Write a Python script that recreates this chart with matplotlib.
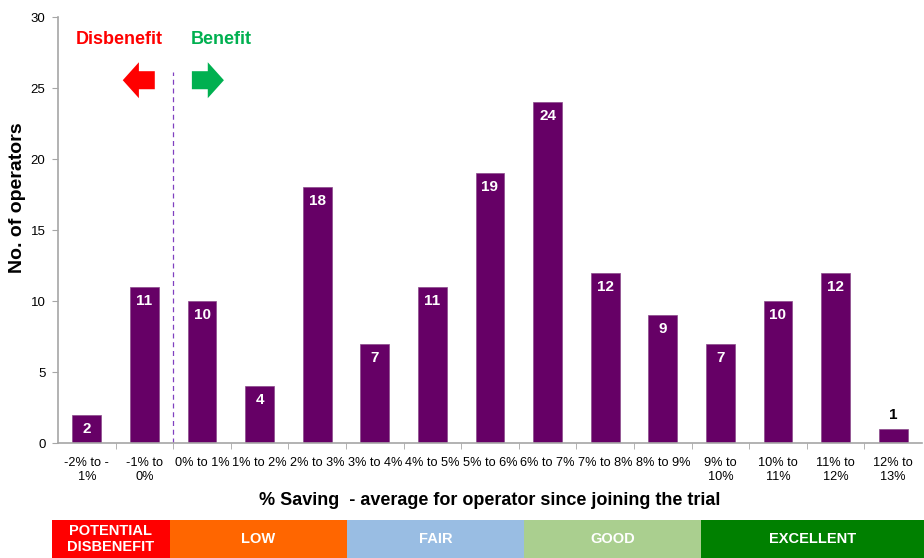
import matplotlib
matplotlib.use("Agg")
import matplotlib.pyplot as plt
from matplotlib.patches import FancyArrow, Rectangle

plt.rcParams['font.family'] = ['Liberation Sans', 'DejaVu Sans']

# -----------------------------
# Daten
# -----------------------------
categories = [
    "-2% to -\n1%", "-1% to\n0%", "0% to 1%", "1% to 2%", "2% to 3%",
    "3% to 4%", "4% to 5%", "5% to 6%", "6% to 7%", "7% to 8%",
    "8% to 9%", "9% to\n10%", "10% to\n11%", "11% to\n12%", "12% to\n13%",
]
operators = [2, 11, 10, 4, 18, 7, 11, 19, 24, 12, 9, 7, 10, 12, 1]

band_labels = ["POTENTIAL\nDISBENEFIT", "LOW", "FAIR", "GOOD", "EXCELLENT"]
band_colors = ["#FF0000", "#FF6600", "#99BDE3", "#AACF8F", "#008000"]
# Bandgrenzen als Anteil der Bildbreite
band_edges = [0.056, 0.184, 0.3755, 0.567, 0.7587, 1.0]

bar_color = "#660066"
axis_grey = "#A6A6A6"

fig = plt.figure(figsize=(9.24, 5.58), dpi=100)
ax = fig.add_axes([0.0628, 0.206, 0.935, 0.7635])

x = list(range(len(categories)))
ax.bar(x, operators, width=0.5, color=bar_color, edgecolor="#8A4A8A", linewidth=0.5, zorder=2)

# Werte in / über den Balken
for xi, v in zip(x, operators):
    if v >= 2:
        ax.annotate(str(v), (xi, v), xytext=(0, -10), textcoords="offset points",
                    ha="center", va="center", color="white", fontsize=11, fontweight="bold")
    else:
        ax.annotate(str(v), (xi, v), xytext=(0, 10), textcoords="offset points",
                    ha="center", va="center", color="black", fontsize=11, fontweight="bold")

ax.set_xlim(-0.5, len(categories) - 0.5)
ax.set_ylim(0, 30)
ax.set_yticks(range(0, 31, 5))
ax.set_xticks(x)
ax.set_xticklabels(categories, fontsize=9.2, linespacing=1.25)
ax.set_xticks([i + 0.5 for i in x[:-1]], minor=True)
ax.tick_params(axis="x", which="major", length=0, pad=10)
ax.tick_params(axis="x", which="minor", length=4, color=axis_grey, direction="out")
ax.tick_params(axis="y", length=4, color=axis_grey, labelsize=9.5, pad=5)

for side in ["top", "right"]:
    ax.spines[side].set_visible(False)
for side in ["left", "bottom"]:
    ax.spines[side].set_color(axis_grey)
    ax.spines[side].set_linewidth(1.2)

ax.set_ylabel("No. of operators", fontsize=14, fontweight="bold")
ax.yaxis.set_label_coords(-0.037, 0.575)
ax.set_xlabel("% Saving  - average for operator since joining the trial",
              fontsize=13, fontweight="bold", labelpad=6)

# Trennlinie Nutzen / Nachteil
ax.plot([1.5, 1.5], [0, 26.1], color="#8040C0", linestyle=(0, (4, 3)), linewidth=0.9, zorder=1)

ax.text(0.555, 28.4, "Disbenefit", color="#FF0000", fontsize=13, fontweight="bold",
        ha="center", va="center")
ax.text(2.33, 28.4, "Benefit", color="#00B050", fontsize=13, fontweight="bold",
        ha="center", va="center")

ax.add_patch(FancyArrow(1.18, 25.55, -0.556, 0, width=1.27, head_width=2.53,
                        head_length=0.28, length_includes_head=True,
                        color="#FF0000", linewidth=0))
ax.add_patch(FancyArrow(1.824, 25.55, 0.556, 0, width=1.27, head_width=2.53,
                        head_length=0.28, length_includes_head=True,
                        color="#00B050", linewidth=0))

# Farbband unten
band_bottom, band_height = 0.0, 0.068
for lab, col, x0, x1 in zip(band_labels, band_colors, band_edges[:-1], band_edges[1:]):
    fig.patches.append(Rectangle((x0, band_bottom), x1 - x0, band_height,
                                 transform=fig.transFigure, color=col, linewidth=0))
    fig.text((x0 + x1) / 2, band_bottom + band_height / 2, lab, color="white",
             fontsize=10.5, fontweight="bold", ha="center", va="center",
             linespacing=1.1)

fig.savefig("out.png", dpi=100)
